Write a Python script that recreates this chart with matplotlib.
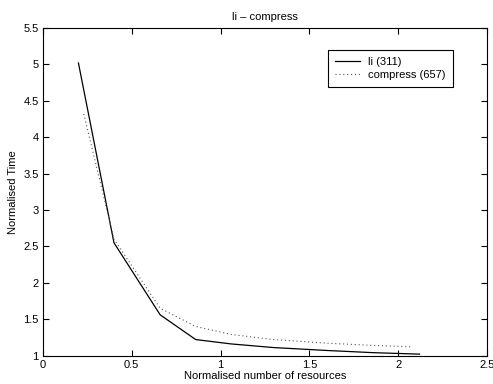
import matplotlib
matplotlib.use("Agg")
import matplotlib.pyplot as plt

# data
li_x = [0.2, 0.4, 0.66, 0.86, 1.06, 1.3, 1.6, 1.86, 2.12]
li_y = [5.02, 2.55, 1.56, 1.22, 1.16, 1.11, 1.07, 1.04, 1.02]

comp_x = [0.23, 0.4, 0.66, 0.86, 1.06, 1.3, 1.6, 1.86, 2.08]
comp_y = [4.32, 2.6, 1.65, 1.40, 1.29, 1.22, 1.17, 1.14, 1.12]

plt.rcParams["font.family"] = ["Liberation Sans", "DejaVu Sans"]
plt.rcParams["font.size"] = 8

fig = plt.figure(figsize=(4.93, 3.84), dpi=100)
ax = fig.add_axes([0.087, 0.074, 0.901, 0.853])

ax.plot(li_x, li_y, color="black", linewidth=0.9, label="li (311)")
ax.plot(comp_x, comp_y, color="#555555", linewidth=0.8, linestyle=(0, (1, 2.5)),
        label="compress (657)")

ax.set_xlim(0, 2.5)
ax.set_ylim(1, 5.5)
ax.set_xticks([0, 0.5, 1, 1.5, 2, 2.5])
ax.set_xticklabels(["0", "0.5", "1", "1.5", "2", "2.5"])
ax.set_yticks([1, 1.5, 2, 2.5, 3, 3.5, 4, 4.5, 5, 5.5])
ax.set_yticklabels(["1", "1.5", "2", "2.5", "3", "3.5", "4", "4.5", "5", "5.5"])
ax.tick_params(direction="in", top=True, right=True, length=4, width=0.8, labelsize=8, pad=3)
for s in ax.spines.values():
    s.set_linewidth(0.8)

ax.set_title("li \u2013 compress", fontsize=8, pad=6)
ax.set_xlabel("Normalised number of resources", fontsize=8, labelpad=1)
ax.set_ylabel("Normalised Time", fontsize=8, labelpad=4)

leg = ax.legend(loc="upper right", bbox_to_anchor=(0.935, 0.95), fontsize=8,
                fancybox=False, edgecolor="black", framealpha=1,
                handlelength=2.2, borderpad=0.6, labelspacing=0.3)
leg.get_frame().set_linewidth(0.8)

fig.savefig("out.png", dpi=100)
